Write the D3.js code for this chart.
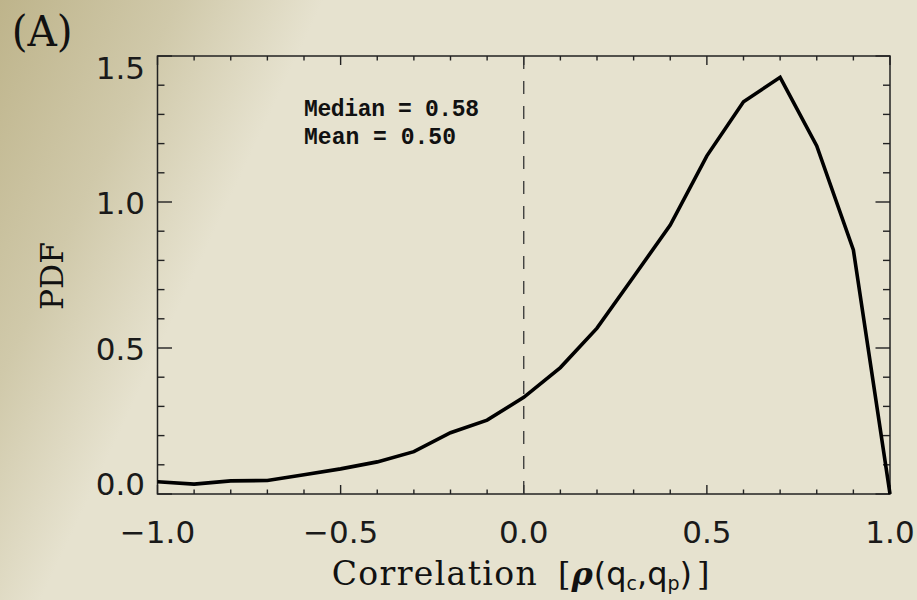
<!DOCTYPE html>
<html>
<head>
<meta charset="utf-8">
<script src="https://cdn.jsdelivr.net/npm/d3@7"></script>
<style>
  html, body { margin: 0; padding: 0; background: #e2dfcc; }
  svg { display: block; }
</style>
</head>
<body>
<svg id="chart" width="917" height="600"></svg>
<script>
// ---- data ----
const corrBins = [-1.0, -0.9, -0.8, -0.7, -0.6, -0.5, -0.4, -0.3, -0.2, -0.1, 0.0,
                  0.1, 0.2, 0.3, 0.4, 0.5, 0.6, 0.7, 0.8, 0.9, 1.0];
const pdfValues = [0.042, 0.034, 0.045, 0.046, 0.066, 0.086, 0.110, 0.145, 0.210, 0.253, 0.331,
                   0.433, 0.568, 0.744, 0.921, 1.158, 1.343, 1.427, 1.192, 0.836, 0.0];
const xTickValues = [-1.0, -0.5, 0.0, 0.5, 1.0];
const xTickLabels = ["\u22121.0", "\u22120.5", "0.0", "0.5", "1.0"];
const yTickValues = [0.0, 0.5, 1.0, 1.5];
const yTickLabels = ["0.0", "0.5", "1.0", "1.5"];
const statsLines = ["Median = 0.58", "Mean = 0.50"];
const medianMarker = [0.0];

// ---- layout ----
const svg = d3.select("#chart");
const W = 917, H = 600;
const L = 157.5, R = 890, T = 56, B = 494;

const defs = svg.append("defs");
const grad = defs.append("linearGradient")
  .attr("id", "bg").attr("gradientUnits", "userSpaceOnUse")
  .attr("x1", 0).attr("y1", 0).attr("x2", 265).attr("y2", 125);
grad.append("stop").attr("offset", 0).attr("stop-color", "#beb48b");
grad.append("stop").attr("offset", 0.55).attr("stop-color", "#d0c9aa");
grad.append("stop").attr("offset", 1).attr("stop-color", "#e6e2cf");
svg.append("rect").attr("width", W).attr("height", H).attr("fill", "#e2dfcc");
svg.append("rect").attr("width", W).attr("height", H).attr("fill", "url(#bg)");

const x = d3.scaleLinear().domain([-1, 1]).range([L, R]);
const y = d3.scaleLinear().domain([0, 1.5]).range([B, T]);

const axisColor = "#222";
const g = svg.append("g");

const xMinor = d3.range(-10, 11).map(d => d / 10).filter(v => !xTickValues.some(t => Math.abs(t - v) < 1e-9));
const yMinor = d3.range(0, 16).map(d => d / 10).filter(v => !yTickValues.some(t => Math.abs(t - v) < 1e-9));

function xticks(vals, len) {
  g.selectAll(null).data(vals).enter().append("line")
    .attr("x1", d => x(d)).attr("x2", d => x(d))
    .attr("y1", B).attr("y2", B - len)
    .attr("stroke", axisColor).attr("stroke-width", 1.4);
  g.selectAll(null).data(vals).enter().append("line")
    .attr("x1", d => x(d)).attr("x2", d => x(d))
    .attr("y1", T).attr("y2", T + len)
    .attr("stroke", axisColor).attr("stroke-width", 1.4);
}
function yticks(vals, len) {
  g.selectAll(null).data(vals).enter().append("line")
    .attr("x1", L).attr("x2", L + len)
    .attr("y1", d => y(d)).attr("y2", d => y(d))
    .attr("stroke", axisColor).attr("stroke-width", 1.4);
  g.selectAll(null).data(vals).enter().append("line")
    .attr("x1", R).attr("x2", R - len)
    .attr("y1", d => y(d)).attr("y2", d => y(d))
    .attr("stroke", axisColor).attr("stroke-width", 1.4);
}
xticks(xTickValues, 9);
xticks(xMinor, 4.5);
yticks(yTickValues, 14.5);
yticks(yMinor, 7);

g.append("rect").attr("x", L).attr("y", T).attr("width", R - L).attr("height", B - T)
  .attr("fill", "none").attr("stroke", axisColor).attr("stroke-width", 1.5);

// tick labels
const tickFont = "'DejaVu Sans', sans-serif";
svg.append("g").selectAll("text").data(xTickValues).enter().append("text")
  .attr("x", d => x(d)).attr("y", 543)
  .attr("text-anchor", "middle")
  .attr("font-family", tickFont).attr("font-size", 31)
  .attr("fill", "#1a1a1a")
  .text((d, i) => xTickLabels[i]);

svg.append("g").selectAll("text").data(yTickValues).enter().append("text")
  .attr("x", 145)
  .attr("y", d => Math.max(T + 23, Math.min(B + 1, y(d) + 12)))
  .attr("text-anchor", "end")
  .attr("font-family", tickFont).attr("font-size", 31)
  .attr("fill", "#1a1a1a")
  .text((d, i) => yTickLabels[i]);

// dashed median marker line
svg.append("g").selectAll("line").data(medianMarker).enter().append("line")
  .attr("x1", d => x(d)).attr("x2", d => x(d))
  .attr("y1", B).attr("y2", T)
  .attr("stroke", "#333").attr("stroke-width", 1.3)
  .attr("stroke-dasharray", "13,12");

// curve
const line = d3.line().x((d, i) => x(corrBins[i])).y(d => y(d));
svg.append("path").datum(pdfValues)
  .attr("d", line)
  .attr("fill", "none").attr("stroke", "#000").attr("stroke-width", 3.6)
  .attr("stroke-linejoin", "miter");

// stats text
const statsG = svg.append("g");
statsG.append("text").attr("x", 304).attr("y", 116)
  .attr("font-family", "'Liberation Mono', 'Courier New', monospace").attr("font-weight", "bold").attr("font-size", 23)
  .attr("textLength", 175).attr("lengthAdjust", "spacing")
  .attr("fill", "#111").text(statsLines[0]);
statsG.append("text").attr("x", 304).attr("y", 144.3)
  .attr("font-family", "'Liberation Mono', 'Courier New', monospace").attr("font-weight", "bold").attr("font-size", 23)
  .attr("textLength", 152).attr("lengthAdjust", "spacing")
  .attr("fill", "#111").text(statsLines[1]);

// panel label
svg.append("text").attr("x", 11.7).attr("y", 46)
  .attr("font-family", "'DejaVu Serif', serif").attr("font-size", 43)
  .attr("textLength", 61).attr("lengthAdjust", "spacingAndGlyphs")
  .attr("fill", "#111").text("(A)");

// y title
svg.append("text")
  .attr("transform", "translate(63,276) rotate(-90)")
  .attr("text-anchor", "middle")
  .attr("font-family", "'DejaVu Serif', serif").attr("font-size", 32)
  .attr("textLength", 68).attr("lengthAdjust", "spacingAndGlyphs")
  .attr("fill", "#111").text("PDF");

// x title
svg.append("text").attr("x", 331.7).attr("y", 585)
  .attr("font-family", "'DejaVu Serif', serif").attr("font-size", 33)
  .attr("textLength", 205).attr("lengthAdjust", "spacing")
  .attr("fill", "#111").text("Correlation");

const t2 = svg.append("text").attr("x", 558).attr("y", 585)
  .attr("fill", "#111").attr("font-size", 32);
t2.append("tspan").attr("font-family", "'DejaVu Serif', serif").text("[");
t2.append("tspan").attr("font-family", "'DejaVu Serif', serif").attr("font-style", "italic").attr("font-weight", "bold").attr("dx", 1).text("\u03C1");
t2.append("tspan").attr("font-family", "'DejaVu Sans', sans-serif").attr("dx", 1).text("(q");
t2.append("tspan").attr("font-family", "'DejaVu Sans', sans-serif").attr("font-size", 19).attr("dy", 5).text("c");
t2.append("tspan").attr("font-family", "'DejaVu Sans', sans-serif").attr("dy", -5).text(",q");
t2.append("tspan").attr("font-family", "'DejaVu Sans', sans-serif").attr("font-size", 19).attr("dy", 5).text("p");
t2.append("tspan").attr("font-family", "'DejaVu Sans', sans-serif").attr("dy", -5).text(")");
t2.append("tspan").attr("font-family", "'DejaVu Serif', serif").attr("dx", 5).text("]");
</script>
</body>
</html>
